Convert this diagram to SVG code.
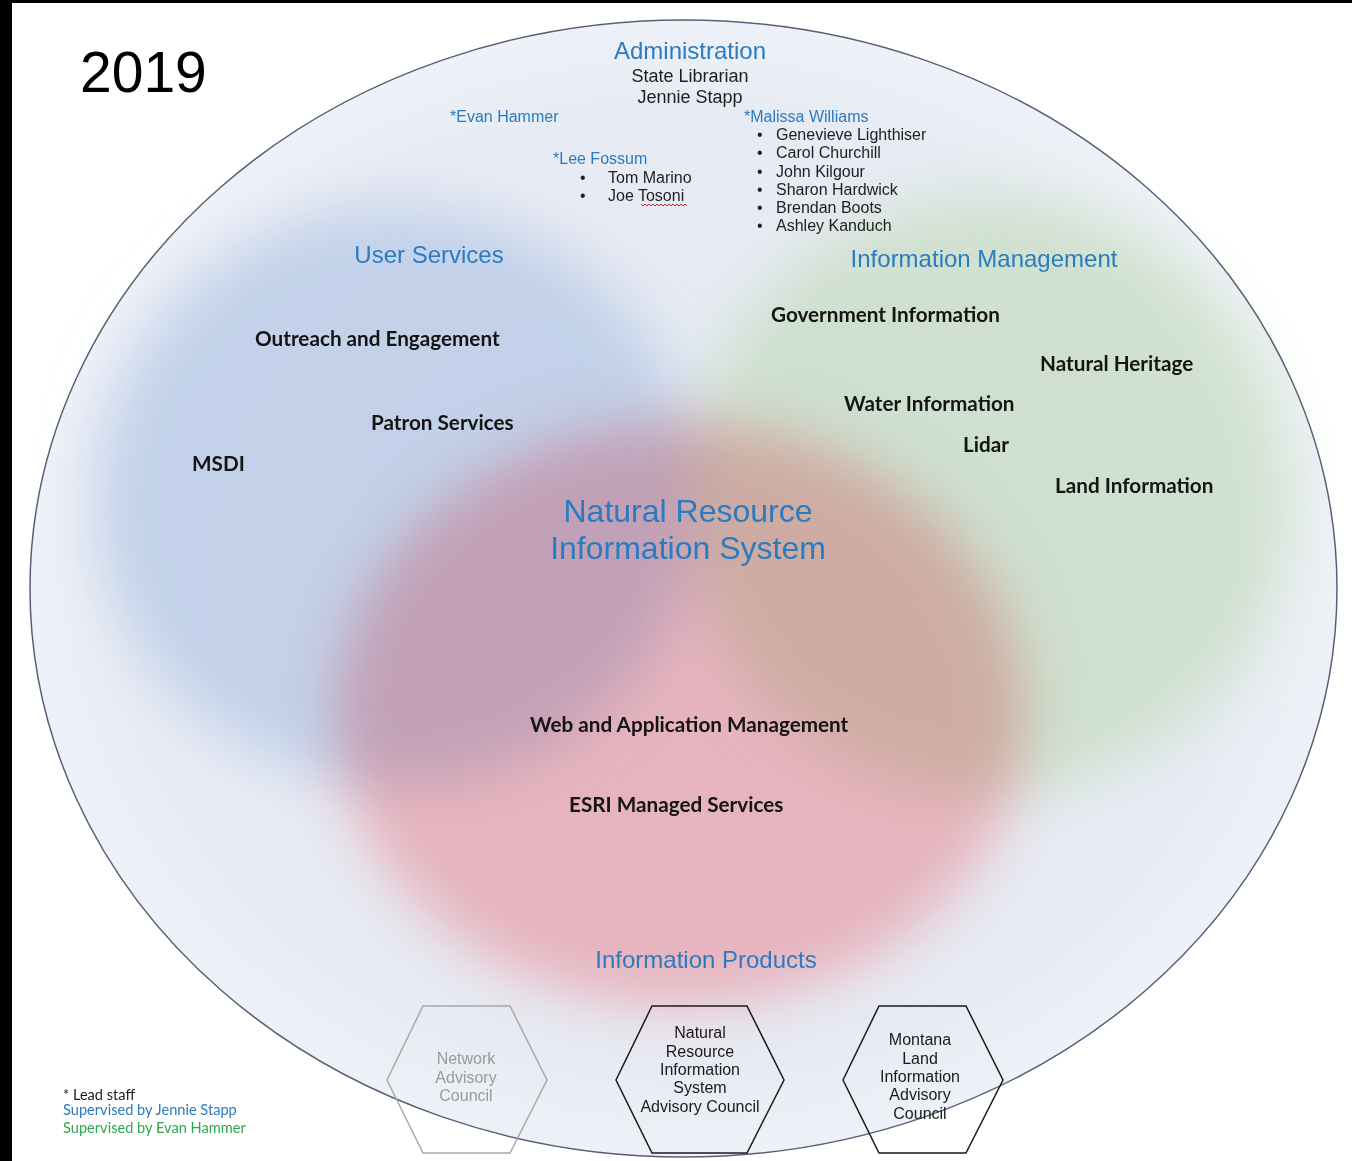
<svg xmlns="http://www.w3.org/2000/svg" width="1352" height="1161" viewBox="0 0 1352 1161">
  <defs>
    <filter id="blur" x="-30%" y="-30%" width="160%" height="160%">
      <feGaussianBlur stdDeviation="28"/>
    </filter>
    <radialGradient id="bg" cx="0.5" cy="0.5" r="0.5">
      <stop offset="0" stop-color="#e4e9f2"/>
      <stop offset="0.85" stop-color="#e7ebf3"/>
      <stop offset="1" stop-color="#eef1f7"/>
    </radialGradient>
    <style>
      .arial { font-family: "Liberation Sans", Arial, sans-serif; }
      .blob { mix-blend-mode: multiply; }
      .head { font-family: "Liberation Sans", Arial, sans-serif; fill: #2b7bc0; font-size: 24px; text-anchor: middle; }
      .lead { font-family: "Liberation Sans", Arial, sans-serif; fill: #2b7bc0; font-size: 16px; }
      .staff { font-family: "Liberation Sans", Arial, sans-serif; fill: #1e1e1e; font-size: 16px; }
      .unit { font-family: Lato, "Open Sans", sans-serif; font-weight: 700; fill: #141414; font-size: 20.7px; }
      .hex { fill: none; stroke: #1a1a1a; stroke-width: 1.5; }
      .hexg { fill: none; stroke: #a8a8a8; stroke-width: 1.5; }
      .hext { font-family: "Liberation Sans", Arial, sans-serif; font-size: 16px; text-anchor: middle; fill: #1a1a1a; }
      .legend { font-family: Lato, "Open Sans", sans-serif; font-size: 14.6px; }
    </style>
  </defs>

  <rect x="0" y="0" width="1352" height="1161" fill="#ffffff"/>
  <rect x="0" y="0" width="12" height="1161" fill="#000000"/>
  <rect x="0" y="0" width="1352" height="3" fill="#000000"/>

  <text x="80" y="92" font-family="'Liberation Sans', Arial, sans-serif" font-size="57" fill="#000000">2019</text>

  <g id="outer">
    <ellipse cx="683.5" cy="588.5" rx="653.5" ry="568.5" fill="url(#bg)"/>
  </g>

  <g id="blobs">
    <ellipse id="blob-user" class="blob" cx="395" cy="495" rx="300" ry="288" fill="#d8e4f6" filter="url(#blur)"/>
    <ellipse id="blob-info" class="blob" cx="990" cy="495" rx="302" ry="298" fill="#e6f5da" filter="url(#blur)"/>
    <ellipse id="blob-nris" class="blob" cx="680" cy="714" rx="345" ry="292" fill="#ffc4c8" filter="url(#blur)"/>
  </g>

  <ellipse cx="683.5" cy="588.5" rx="653.5" ry="568.5" fill="none" stroke="#566177" stroke-width="1.5"/>

  <g id="administration">
    <text class="head" x="690" y="59">Administration</text>
    <text class="arial" x="690" y="82" font-size="18" fill="#1e1e1e" text-anchor="middle">State Librarian</text>
    <text class="arial" x="690" y="103" font-size="18" fill="#1e1e1e" text-anchor="middle">Jennie Stapp</text>
  </g>

  <g id="evan-hammer">
    <text class="lead" x="450" y="122">*Evan Hammer</text>
  </g>

  <g id="lee-fossum">
    <text class="lead" x="553" y="164">*Lee Fossum</text>
    <text class="staff" x="580" y="183">•</text>
    <text class="staff" x="608" y="183">Tom Marino</text>
    <text class="staff" x="580" y="201">•</text>
    <text class="staff" x="608" y="201">Joe Tosoni</text>
    <path d="M641 204 l2 2 l2 -2 l2 2 l2 -2 l2 2 l2 -2 l2 2 l2 -2 l2 2 l2 -2 l2 2 l2 -2 l2 2 l2 -2 l2 2 l2 -2 l2 2 l2 -2 l2 2 l2 -2 l2 2 l2 -2 l2 2" fill="none" stroke="#d42020" stroke-width="1"/>
  </g>

  <g id="malissa-williams">
    <text class="lead" x="744" y="122">*Malissa Williams</text>
    <text class="staff" x="757" y="140">•</text>
    <text class="staff" x="776" y="140">Genevieve Lighthiser</text>
    <text class="staff" x="757" y="158">•</text>
    <text class="staff" x="776" y="158">Carol Churchill</text>
    <text class="staff" x="757" y="177">•</text>
    <text class="staff" x="776" y="177">John Kilgour</text>
    <text class="staff" x="757" y="195">•</text>
    <text class="staff" x="776" y="195">Sharon Hardwick</text>
    <text class="staff" x="757" y="213">•</text>
    <text class="staff" x="776" y="213">Brendan Boots</text>
    <text class="staff" x="757" y="231">•</text>
    <text class="staff" x="776" y="231">Ashley Kanduch</text>
  </g>

  <g id="user-services">
    <text class="head" x="429" y="263">User Services</text>
    <text class="unit" x="255" y="346">Outreach and Engagement</text>
    <text class="unit" x="371" y="430">Patron Services</text>
    <text class="unit" x="192" y="471">MSDI</text>
  </g>

  <g id="information-management">
    <text class="head" x="984" y="267">Information Management</text>
    <text class="unit" x="771" y="322">Government Information</text>
    <text class="unit" x="1040" y="371">Natural Heritage</text>
    <text class="unit" x="844" y="411">Water Information</text>
    <text class="unit" x="963" y="452">Lidar</text>
    <text class="unit" x="1055" y="493">Land Information</text>
  </g>

  <g id="nris">
    <text class="head" x="688" y="522" style="font-size:32px">Natural Resource</text>
    <text class="head" x="688" y="559" style="font-size:32px">Information System</text>
    <text class="unit" x="530" y="732">Web and Application Management</text>
    <text class="unit" x="569" y="812">ESRI Managed Services</text>
  </g>

  <g id="information-products">
    <text class="head" x="706" y="968">Information Products</text>
  </g>

  <g id="network-advisory-council">
    <polygon class="hexg" points="387,1080 423,1006 510,1006 547,1080 510,1153 423,1153"/>
    <text class="hext" x="466" y="1064" style="fill:#9a9a9a">Network</text>
    <text class="hext" x="466" y="1083" style="fill:#9a9a9a">Advisory</text>
    <text class="hext" x="466" y="1101" style="fill:#9a9a9a">Council</text>
  </g>

  <g id="nris-advisory-council">
    <polygon class="hex" points="616,1080 652,1006 747,1006 784,1080 747,1153 652,1153"/>
    <text class="hext" x="700" y="1038">Natural</text>
    <text class="hext" x="700" y="1057">Resource</text>
    <text class="hext" x="700" y="1075">Information</text>
    <text class="hext" x="700" y="1093">System</text>
    <text class="hext" x="700" y="1112">Advisory Council</text>
  </g>

  <g id="montana-land-council">
    <polygon class="hex" points="843,1080 879,1006 966,1006 1003,1080 966,1153 879,1153"/>
    <text class="hext" x="920" y="1045">Montana</text>
    <text class="hext" x="920" y="1064">Land</text>
    <text class="hext" x="920" y="1082">Information</text>
    <text class="hext" x="920" y="1100">Advisory</text>
    <text class="hext" x="920" y="1119">Council</text>
  </g>

  <g id="legend">
    <text class="legend" x="63" y="1100" fill="#1a1a1a">* Lead staff</text>
    <text class="legend" x="63" y="1115" fill="#2b7bc0">Supervised by Jennie Stapp</text>
    <text class="legend" x="63" y="1133" fill="#2ea84e">Supervised by Evan Hammer</text>
  </g>

  <g id="connectors"></g>
</svg>
